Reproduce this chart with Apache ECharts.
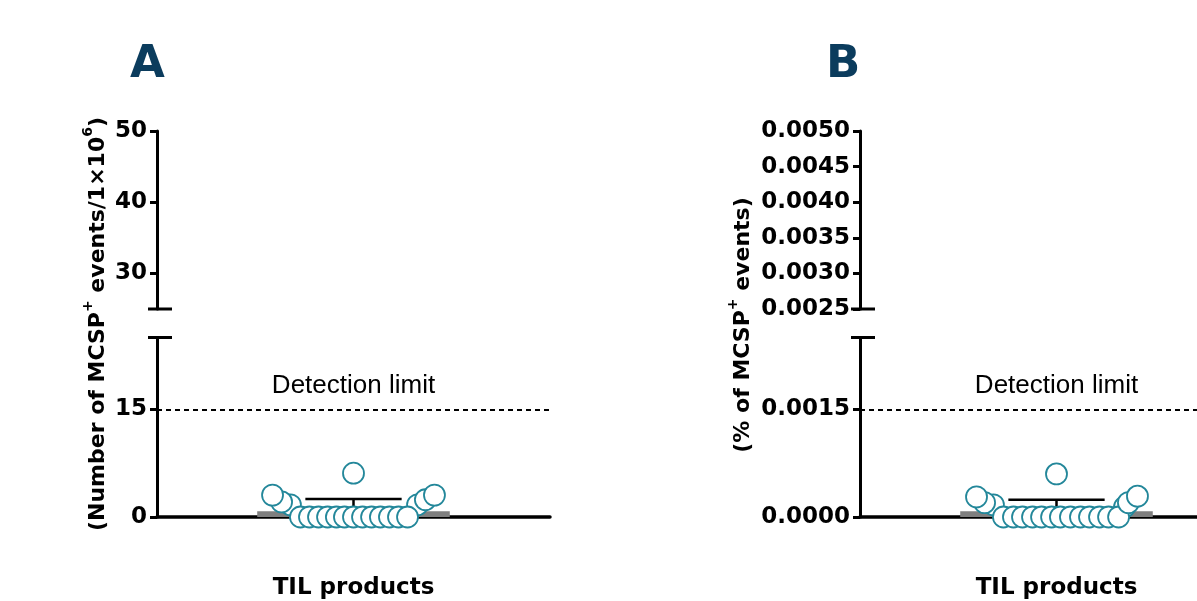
<!DOCTYPE html>
<html>
<head>
<meta charset="utf-8">
<script src="https://cdn.jsdelivr.net/npm/echarts@6/dist/echarts.min.js"></script>
<style>
html,body{margin:0;padding:0;background:#fff;}
#c{width:1197px;height:601px;}
</style>
</head>
<body>
<div id="c"></div>
<script>
// ---------- DATA ----------
const category = 'TIL products';
const detectionLimitA = 15;
const detectionLimitB = 0.0015;
// Panel A: Number of MCSP+ events / 1x10^6
const barMeanA = 0.8;
const errTopA = 2.5;
const pointsA = [1.7, 1.7, 0,0,0,0,0,0,0,0,0,0,0,0,0, 2.1, 2.4, 3.05, 3.05, 6.1];
const jitterA = [-0.321, 0.326, -0.270,-0.224,-0.178,-0.132,-0.087,-0.046,0,0.046,0.092,0.137,0.183,0.229,0.275, -0.366, 0.366, -0.412, 0.412, 0];
const lowerTicksA = [0, 15];
const upperTicksA = [30, 40, 50];
// Panel B: % of MCSP+ events
const barMeanB = 0.00008;
const errTopB = 0.00024;
const pointsB = [0.00017, 0.00014, 0,0,0,0,0,0,0,0,0,0,0,0,0, 0.0002, 0.0002, 0.00028, 0.00029, 0.0006];
const jitterB = [-0.321, 0.346, -0.270,-0.219,-0.173,-0.122,-0.076,-0.025,0.020,0.071,0.122,0.168,0.219,0.265,0.316, -0.366, 0.366, -0.407, 0.412, 0];
const lowerTicksB = [0, 0.0015];
const upperTicksB = [0.0025, 0.0030, 0.0035, 0.0040, 0.0045, 0.0050];

// ---------- STYLE / LAYOUT ----------
const FONT = "'Liberation Sans', Arial, Helvetica, sans-serif";
const BFONT = "'DejaVu Sans', 'Liberation Sans', Arial, sans-serif";
const TEAL = '#23879a';
const NAVY = '#0b3c5d';
const panels = [
  {left: 157, lowerMax: 25, upperMin: 25, upperMax: 50, lowerTicks: lowerTicksA, upperTicks: upperTicksA,
   fmt: v => String(v), mean: barMeanA, top: errTopA, pts: pointsA, jit: jitterA, det: detectionLimitA},
  {left: 860, lowerMax: 0.0025, upperMin: 0.0025, upperMax: 0.0050, lowerTicks: lowerTicksB, upperTicks: upperTicksB,
   fmt: v => Number(v).toFixed(4), mean: barMeanB, top: errTopB, pts: pointsB, jit: jitterB, det: detectionLimitB}
];
const GRID_W = 393;
const LOWER_TOP = 337.5, LOWER_BOTTOM = 517;
const UPPER_TOP = 131, UPPER_BOTTOM = 309;

const labelStyle = {fontFamily: BFONT, fontWeight: 'bold', fontSize: 23, color: '#000', margin: 10};
const grids = [], xAxes = [], yAxes = [], series = [];
panels.forEach((p, i) => {
  const gl = i * 2, gu = i * 2 + 1;
  grids.push({left: p.left, top: LOWER_TOP, width: GRID_W, height: LOWER_BOTTOM - LOWER_TOP, containLabel: false, outerBoundsMode: 'none'});
  grids.push({left: p.left, top: UPPER_TOP, width: GRID_W, height: UPPER_BOTTOM - UPPER_TOP, containLabel: false, outerBoundsMode: 'none'});
  xAxes.push({gridIndex: gl, type: 'value', min: -1, max: 1,
    axisLine: {show: true, onZero: false, lineStyle: {color: '#000', width: 3.5}},
    axisTick: {show: false}, axisLabel: {show: false}, splitLine: {show: false},
    name: category, nameLocation: 'middle', nameGap: 60,
    nameTextStyle: {fontFamily: BFONT, fontWeight: 'bold', fontSize: 23, color: '#000'}});
  xAxes.push({gridIndex: gu, type: 'value', min: -1, max: 1, show: false});
  const yCommon = {
    type: 'value',
    axisLine: {show: true, onZero: false, lineStyle: {color: '#000', width: 3}},
    splitLine: {show: false},
  };
  yAxes.push(Object.assign({}, yCommon, {gridIndex: gl, min: 0, max: p.lowerMax,
    axisTick: {show: true, length: 7, lineStyle: {color: '#000', width: 3}, customValues: p.lowerTicks},
    axisLabel: Object.assign({customValues: p.lowerTicks, formatter: p.fmt}, labelStyle)}));
  yAxes.push(Object.assign({}, yCommon, {gridIndex: gu, min: p.upperMin, max: p.upperMax,
    axisTick: {show: true, length: 7, lineStyle: {color: '#000', width: 3}, customValues: p.upperTicks},
    axisLabel: Object.assign({customValues: p.upperTicks, formatter: p.fmt}, labelStyle)}));

  // bar + error bar
  series.push({type: 'custom', xAxisIndex: gl, yAxisIndex: gl, z: 2, silent: true,
    data: [[0, p.mean, p.top]],
    renderItem: function (params, api) {
      const x = api.value(0), m = api.value(1), t = api.value(2);
      const a = api.coord([x - 0.49, 0]), b = api.coord([x + 0.49, m]);
      const c0 = api.coord([x, m]), c1 = api.coord([x, t]);
      const k0 = api.coord([x - 0.245, t]), k1 = api.coord([x + 0.245, t]);
      return {type: 'group', children: [
        {type: 'rect', shape: {x: a[0], y: b[1], width: b[0] - a[0], height: a[1] - b[1]}, style: {fill: '#7f7f7f'}},
        {type: 'line', shape: {x1: c0[0], y1: c0[1], x2: c1[0], y2: c1[1]}, style: {stroke: '#000', lineWidth: 2.5}},
        {type: 'line', shape: {x1: k0[0], y1: k0[1], x2: k1[0], y2: k1[1]}, style: {stroke: '#000', lineWidth: 2.5}}
      ]};
    }});
  // points + detection limit
  series.push({type: 'scatter', xAxisIndex: gl, yAxisIndex: gl, z: 5, silent: true,
    symbol: 'circle', symbolSize: 21,
    itemStyle: {color: '#fff', borderColor: TEAL, borderWidth: 1.8, opacity: 1},
    data: p.pts.map((v, j) => [p.jit[j], v]),
    markLine: {symbol: 'none', silent: true, animation: false, precision: 8,
      lineStyle: {type: [5, 4], color: '#000', width: 2},
      label: {show: true, position: 'insideMiddleTop', formatter: 'Detection limit', distance: 10,
        fontFamily: FONT, fontSize: 26, color: '#000'},
      data: [{yAxis: p.det}]}});
  // axis break caps
  [[gl, p.lowerMax], [gu, p.upperMin]].forEach(([g, yv]) => {
    series.push({type: 'custom', xAxisIndex: g, yAxisIndex: g, z: 6, silent: true, clip: false,
      data: [[-1, yv]],
      renderItem: function (params, api) {
        const c = api.coord([api.value(0), api.value(1)]);
        return {type: 'line', shape: {x1: c[0] - 9, y1: c[1], x2: c[0] + 15, y2: c[1]}, style: {stroke: '#000', lineWidth: 3}};
      }});
  });
});

const titleRich = {
  a: {fontFamily: BFONT, fontWeight: 'bold', fontSize: 22, fill: '#000', lineHeight: 28, verticalAlign: 'bottom'},
  s: {fontFamily: BFONT, fontWeight: 'bold', fontSize: 14, fill: '#000', lineHeight: 14, verticalAlign: 'top'}
};
const chart = echarts.init(document.getElementById('c'), null, {renderer: 'canvas'});
chart.setOption({
  animation: false,
  backgroundColor: '#fff',
  title: [
    {text: 'A', left: 125, top: 38, textStyle: {fontFamily: BFONT, fontSize: 45, fontWeight: 'bold', color: NAVY}},
    {text: 'B', left: 821, top: 38, textStyle: {fontFamily: BFONT, fontSize: 45, fontWeight: 'bold', color: NAVY}}
  ],
  grid: grids, xAxis: xAxes, yAxis: yAxes, series: series,
  graphic: [
    {type: 'text', x: 95, y: 324, rotation: Math.PI / 2, silent: true,
     style: {text: '{a|(Number of MCSP}{s|+}{a| events/1×10}{s|6}{a|)}', align: 'center', verticalAlign: 'middle', rich: titleRich}},
    {type: 'text', x: 740, y: 325, rotation: Math.PI / 2, silent: true,
     style: {text: '{a|(% of MCSP}{s|+}{a| events)}', align: 'center', verticalAlign: 'middle', rich: titleRich}}
  ]
});
</script>
</body>
</html>
